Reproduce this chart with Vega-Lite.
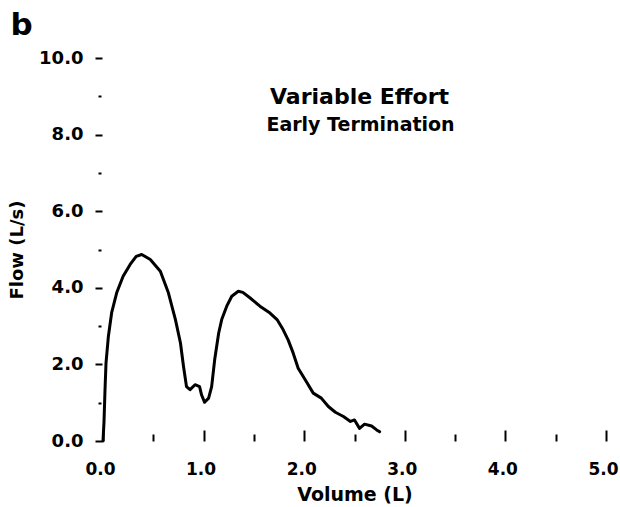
{
  "$schema": "https://vega.github.io/schema/vega-lite/v6.json",
  "width": 503,
  "height": 383,
  "autosize": {"type": "none"},
  "padding": {"left": 103, "top": 58, "right": 14, "bottom": 66},
  "background": "white",
  "title": {"text": "b", "anchor": "start", "frame": "bounds", "font": "DejaVu Sans", "fontSize": 31, "fontWeight": "bold", "color": "black", "baseline": "alphabetic", "offset": 12, "dy": 29, "dx": 2},
  "config": {
    "view": {"stroke": null},
    "axis": {"grid": false, "domain": false, "tickColor": "black", "labelColor": "black", "titleColor": "black", "labelFont": "DejaVu Sans", "titleFont": "DejaVu Sans", "labelFontWeight": "bold", "titleFontWeight": "bold", "labelFontSize": 18, "titleFontSize": 18, "tickWidth": 2, "labelFlush": false, "labelOverlap": false}
  },
  "resolve": {"axis": {"x": "independent", "y": "independent"}},
  "layer": [
    {
      "data": {"values": [
        {"v": 0.0, "f": 0.0},
        {"v": 0.01, "f": 0.5},
        {"v": 0.02, "f": 1.34},
        {"v": 0.03, "f": 2.04},
        {"v": 0.053, "f": 2.72},
        {"v": 0.086, "f": 3.35},
        {"v": 0.136, "f": 3.87},
        {"v": 0.2, "f": 4.3},
        {"v": 0.27, "f": 4.61},
        {"v": 0.33, "f": 4.82},
        {"v": 0.385, "f": 4.87},
        {"v": 0.47, "f": 4.74},
        {"v": 0.57, "f": 4.43},
        {"v": 0.65, "f": 3.87},
        {"v": 0.72, "f": 3.17},
        {"v": 0.77, "f": 2.56},
        {"v": 0.8, "f": 1.95},
        {"v": 0.83, "f": 1.42},
        {"v": 0.865, "f": 1.34},
        {"v": 0.915, "f": 1.47},
        {"v": 0.96, "f": 1.42},
        {"v": 0.98, "f": 1.2},
        {"v": 1.01, "f": 1.01},
        {"v": 1.05, "f": 1.12},
        {"v": 1.08, "f": 1.42},
        {"v": 1.11, "f": 2.12},
        {"v": 1.15, "f": 2.82},
        {"v": 1.18, "f": 3.17},
        {"v": 1.23, "f": 3.52},
        {"v": 1.28, "f": 3.78},
        {"v": 1.345, "f": 3.91},
        {"v": 1.39, "f": 3.88},
        {"v": 1.46, "f": 3.74},
        {"v": 1.56, "f": 3.52},
        {"v": 1.66, "f": 3.34},
        {"v": 1.73, "f": 3.17},
        {"v": 1.79, "f": 2.91},
        {"v": 1.84, "f": 2.64},
        {"v": 1.89, "f": 2.3},
        {"v": 1.94, "f": 1.9},
        {"v": 2.01, "f": 1.6},
        {"v": 2.09, "f": 1.25},
        {"v": 2.17, "f": 1.12},
        {"v": 2.24, "f": 0.9},
        {"v": 2.31, "f": 0.75},
        {"v": 2.39, "f": 0.64},
        {"v": 2.46, "f": 0.51},
        {"v": 2.5, "f": 0.55},
        {"v": 2.55, "f": 0.33},
        {"v": 2.6, "f": 0.44},
        {"v": 2.67, "f": 0.39},
        {"v": 2.72, "f": 0.29},
        {"v": 2.75, "f": 0.24}
      ]},
      "mark": {"type": "line", "color": "black", "strokeWidth": 3, "strokeJoin": "round", "strokeCap": "round"},
      "encoding": {
        "x": {"field": "v", "type": "quantitative", "sort": null, "scale": {"domain": [0, 5], "nice": false, "zero": false},
          "axis": {"orient": "bottom", "title": "Volume (L)", "values": [0, 1, 2, 3, 4, 5], "format": ".1f", "offset": -11, "tickSize": 11, "labelPadding": 20, "labelOffset": -3, "labelFontSize": 17, "titlePadding": 8, "titleFontSize": 19}},
        "y": {"field": "f", "type": "quantitative", "scale": {"domain": [0, 10], "nice": false, "zero": false},
          "axis": {"orient": "left", "title": "Flow (L/s)", "values": [0, 2, 4, 6, 8, 10], "format": ".1f", "offset": 1, "tickSize": 7, "labelPadding": 12, "titlePadding": 12}},
        "order": {"field": "v", "type": "quantitative"}
      }
    },
    {
      "data": {"values": [{"label": "Variable Effort"}]},
      "mark": {"type": "text", "font": "DejaVu Sans", "fontSize": 22, "fontWeight": "bold", "color": "black", "align": "center", "baseline": "alphabetic"},
      "encoding": {
        "text": {"field": "label"},
        "x": {"datum": 2.55, "type": "quantitative", "axis": {"orient": "bottom", "title": null, "values": [0.5, 1.5, 2.5, 3.5, 4.5], "labels": false, "offset": -7, "tickSize": 7}},
        "y": {"datum": 8.8, "type": "quantitative", "axis": {"orient": "left", "title": null, "values": [1, 3, 5, 7, 9], "labels": false, "offset": 2, "tickSize": 3}}
      }
    },
    {
      "data": {"values": [{"label": "Early Termination"}]},
      "mark": {"type": "text", "font": "DejaVu Sans", "fontSize": 19, "fontWeight": "bold", "color": "black", "align": "center", "baseline": "alphabetic"},
      "encoding": {
        "text": {"field": "label"},
        "x": {"datum": 2.56, "type": "quantitative", "axis": null},
        "y": {"datum": 8.1, "type": "quantitative", "axis": null}
      }
    }
  ]
}
